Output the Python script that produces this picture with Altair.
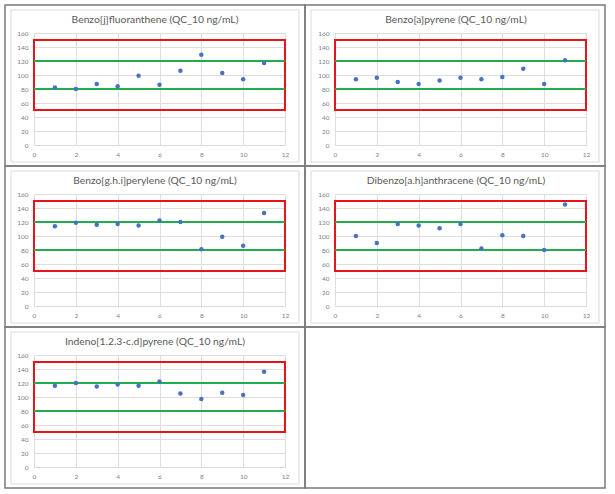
import altair as alt
import pandas as pd

# ---------------- data ----------------
runs = [1, 2, 3, 4, 5, 6, 7, 8, 9, 10, 11]
titles = [
    "Benzo[j]fluoranthene (QC_10 ng/mL)",
    "Benzo[a]pyrene (QC_10 ng/mL)",
    "Benzo[g.h.i]perylene (QC_10 ng/mL)",
    "Dibenzo[a.h]anthracene (QC_10 ng/mL)",
    "Indeno[1.2.3-c.d]pyrene (QC_10 ng/mL)",
]
bjf = [82, 80, 87, 84, 99, 86, 106, 129, 103, 94, 117]
bap = [94, 96, 90, 87, 92, 96, 94, 97, 109, 87, 121]
bghi = [114, 119, 116, 117, 115, 122, 120, 81, 99, 86, 133]
dbah = [100, 90, 117, 115, 111, 117, 82, 101, 100, 80, 145]
indeno = [116, 120, 115, 118, 116, 122, 105, 97, 106, 103, 136]
series = [bjf, bap, bghi, dbah, indeno]

box_x = [0, 12]          # red acceptance box
box_y = [50, 150]
limit_lines = [80, 120]  # green control lines
x_ticks = [0, 2, 4, 6, 8, 10, 12]
y_ticks = [0, 20, 40, 60, 80, 100, 120, 140, 160]

# ---------------- style ----------------
FONT = "Lato"
BLUE = "#4472C4"
RED = "#E8141B"
GREEN = "#1FAE4B"
FRAME = "#7a7a7a"
LIGHT = "#d9d9d9"
GRID = "#dedede"
LABEL = "#7f7f7f"
W, H = 251, 112


def panel(title, values, col, extra=False):
    df = pd.DataFrame({"run": runs, "value": values})
    xs = alt.Scale(domain=[0, 12], nice=False, zero=False)
    ys = alt.Scale(domain=[0, 160], nice=False)
    x_axis = alt.Axis(values=x_ticks, title=None, grid=True, gridColor=GRID,
                      domain=True, domainColor=LIGHT, ticks=False, labelFontSize=6.5,
                      labelColor=LABEL, labelFont=FONT, labelPadding=6,
                      labelFlush=False)
    y_axis = alt.Axis(values=y_ticks, title=None, grid=True, gridColor=GRID,
                      domain=False, ticks=False, labelFontSize=6.5,
                      labelColor=LABEL, labelFont=FONT, labelPadding=6)

    box_df = pd.DataFrame({"x0": [box_x[0]], "x1": [box_x[1]], "y0": [box_y[0]], "y1": [box_y[1]]})
    box = alt.Chart(box_df).mark_rect(fillOpacity=0, stroke=RED, strokeWidth=2).encode(
        x=alt.X("x0:Q", scale=xs, axis=x_axis), x2="x1:Q",
        y=alt.Y("y0:Q", scale=ys, axis=y_axis), y2="y1:Q")

    lines_df = pd.DataFrame({"x0": [box_x[0]] * 2, "x1": [box_x[1]] * 2, "lim": limit_lines})
    lines = alt.Chart(lines_df).mark_rule(color=GREEN, strokeWidth=2).encode(
        x=alt.X("x0:Q", scale=xs, axis=x_axis), x2="x1:Q",
        y=alt.Y("lim:Q", scale=ys, axis=y_axis))

    pts = alt.Chart(df).mark_circle(size=20, color=BLUE, opacity=1).encode(
        x=alt.X("run:Q", scale=xs, axis=x_axis),
        y=alt.Y("value:Q", scale=ys, axis=y_axis))

    dummy = pd.DataFrame({"k": [0]})
    if col == 0:
        fx0, fx1 = -29, 271
    else:
        fx0, fx1 = -30, 270
    deco = []
    deco.append(alt.Chart(dummy).mark_rect(fillOpacity=0, stroke=FRAME, strokeWidth=1.5).encode(
        x=alt.value(fx0), x2=alt.value(fx1), y=alt.value(-28), y2=alt.value(133)))
    if extra:
        deco.append(alt.Chart(dummy).mark_rect(fillOpacity=0, stroke=FRAME, strokeWidth=1.5).encode(
            x=alt.value(fx1), x2=alt.value(fx1 + 300), y=alt.value(-28), y2=alt.value(133)))
    deco.append(alt.Chart(dummy).mark_rect(fillOpacity=0, stroke=LIGHT, strokeWidth=1).encode(
        x=alt.value(fx0 + 6), x2=alt.value(fx1 - 6), y=alt.value(-23), y2=alt.value(129)))
    deco.append(alt.Chart(pd.DataFrame({"t": [title]})).mark_text(
        font=FONT, fontSize=10.3, color="#595959", align="center", baseline="alphabetic").encode(
        x=alt.value(121), y=alt.value(-10), text="t:N"))

    return alt.layer(box, lines, pts, *deco).properties(width=W, height=H)


charts = [
    panel(titles[0], series[0], 0),
    panel(titles[1], series[1], 1),
    panel(titles[2], series[2], 0),
    panel(titles[3], series[3], 1),
    panel(titles[4], series[4], 0, extra=True),
]

chart = alt.concat(*charts, columns=2, spacing=alt.RowColnumber(row=49, column=50),
                   bounds="flush").properties(
    padding={"left": 4, "top": 4, "right": 4, "bottom": 4},
    background="white",
).configure_view(stroke=None)

chart.save("out.html", embed_options={"renderer": "svg", "actions": False})
